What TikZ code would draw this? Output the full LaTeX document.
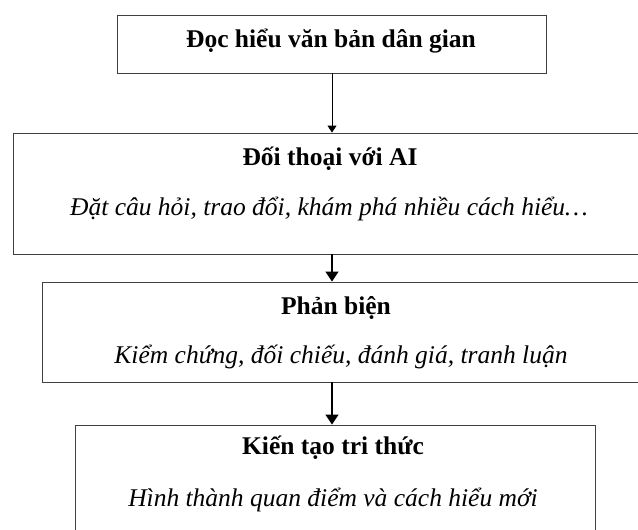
\documentclass[tikz,border=0pt]{standalone}
\usepackage{fontspec}
\setmainfont{Liberation Serif}
\usepackage{tikz}
\usetikzlibrary{arrows.meta,positioning}

\begin{document}
\begin{tikzpicture}[>={Triangle[width=13pt,length=10pt]},x=1pt,y=-1pt,
	box/.style={draw=black!75,line width=0.9pt,rectangle,inner sep=0pt},
	title/.style={font=\fontsize{25.5}{30}\selectfont\bfseries,inner sep=0pt,anchor=base},
	note/.style={font=\fontsize{25.5}{30}\selectfont\itshape,inner sep=0pt,anchor=base}]

	\clip (0,0) rectangle (638,530);

	% The boxes
	\node [box,minimum width=429pt,minimum height=58pt] at (331.5,44) (read) {};
	\node [box,minimum width=635pt,minimum height=121pt] at (330.5,193.5) (talk) {};
	\node [box,minimum width=598pt,minimum height=100pt] at (341,332) (argue) {};
	\node [box,minimum width=520pt,minimum height=110pt] at (335,480) (build) {};

	% Texts
	\node [title] at (331,47) (readT) {Đọc hiểu văn bản dân gian};
	\node [title] at (330,165) (talkT) {Đối thoại với AI};
	\node [note] at (329,215) (talkN) {Đặt câu hỏi, trao đổi, khám phá nhiều cách hiểu\dots};
	\node [title] at (336,314) (argueT) {Phản biện};
	\node [note] at (341,363) (argueN) {Kiểm chứng, đối chiếu, đánh giá, tranh luận};
	\node [title] at (333,454) (buildT) {Kiến tạo tri thức};
	\node [note] at (333,506) (buildN) {Hình thành quan điểm và cách hiểu mới};

	% Arrows
	\coordinate (axis) at (332,0);
	\path[->,>={Triangle[width=9pt,length=7pt]},line width=1pt]
	(read.south -| axis) edge (talk.north -| axis);
	\path[->,line width=1.5pt]
	(talk.south -| axis) edge (argue.north -| axis)
	(argue.south -| axis) edge (build.north -| axis);

\end{tikzpicture}
\end{document}
